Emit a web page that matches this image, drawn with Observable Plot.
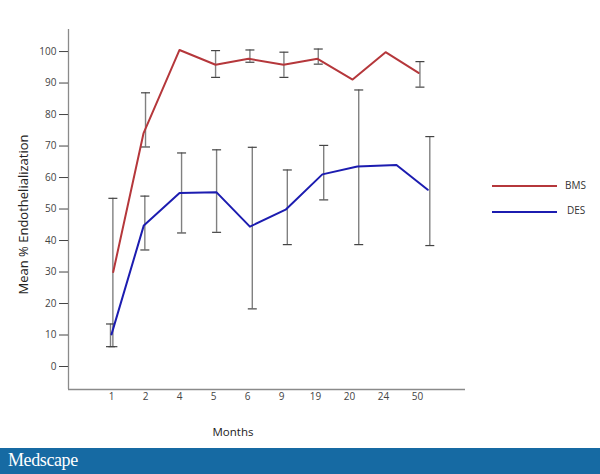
<!DOCTYPE html>
<html><head><meta charset="utf-8">
<script src="https://cdn.jsdelivr.net/npm/d3@7"></script>
<script src="https://cdn.jsdelivr.net/npm/@observablehq/plot@0.6"></script>
<style>
body{margin:0;background:#fff;font-family:"Open Sans",sans-serif;}
#wrap{position:relative;width:600px;height:474px;overflow:hidden;}
#chart svg{display:block;}
.leg{position:absolute;height:2px;width:65px;left:492px;}
.legt{position:absolute;font-size:10px;color:#333;line-height:12px;}
#bar{position:absolute;left:0;top:448px;width:600px;height:26px;background:#166aa3;color:#fff;
 font-family:"Liberation Serif","DejaVu Serif",serif;font-size:18px;line-height:24px;padding-left:8px;box-sizing:border-box;letter-spacing:-0.4px;}
</style></head><body>
<div id="wrap"><div id="chart"></div>
<div class="leg" style="top:185px;background:#b5373b"></div><div class="legt" style="left:565px;top:179px">BMS</div>
<div class="leg" style="top:211px;background:#1c1cb0"></div><div class="legt" style="left:567px;top:204px">DES</div>
<div id="bar">Medscape</div></div>
<script>
// categories (month labels) placed at index positions 0..9
const months = ["1","2","4","5","6","9","19","20","24","50"];
// BMS series: x position (index units) and mean %
const bmsX = [0.05, 0.94, 2.0, 3.06, 4.03, 5.06, 6.06, 7.09, 8.06, 9.03];
const bmsY = [30, 74, 100.5, 95.8, 97.7, 95.8, 97.7, 91.1, 99.8, 93.2];
// DES series
const desX = [0, 0.95, 2.0, 3.09, 4.07, 5.12, 6.2, 7.23, 8.38, 9.3];
const desY = [10.2, 44.8, 55.1, 55.3, 44.4, 49.8, 61, 63.5, 64, 56.1];
// error bars
const bmsErrX = [0.04, 1.0, 3.06, 4.07, 5.07, 6.08, 9.07];
const bmsErrLo = [6.3, 69.7, 91.8, 96.6, 91.8, 96, 88.7];
const bmsErrHi = [53.4, 86.9, 100.3, 100.5, 99.8, 100.8, 96.8];
const desErrX = [-0.03, 0.98, 2.06, 3.09, 4.14, 5.17, 6.24, 7.27, 9.36];
const desErrLo = [6.3, 37.0, 42.4, 42.6, 18.3, 38.7, 52.9, 38.7, 38.4];
const desErrHi = [13.5, 54.1, 67.8, 68.8, 69.6, 62.4, 70.2, 87.8, 73];
const yTicks = [0,10,20,30,40,50,60,70,80,90,100];
const xDomain = [-1.265, 10.41];
const yDomain = [-7.3, 107];

const bms = bmsX.map((x,i)=>({x, y:bmsY[i]}));
const des = desX.map((x,i)=>({x, y:desY[i]}));
const errs = [
  ...bmsErrX.map((x,i)=>({x, lo:bmsErrLo[i], hi:bmsErrHi[i]})),
  ...desErrX.map((x,i)=>({x, lo:desErrLo[i], hi:desErrHi[i]}))
];
const cap = {draw(ctx, size){ const r = Math.sqrt(size/Math.PI); ctx.moveTo(-r,0); ctx.lineTo(r,0); }};

const chart = Plot.plot({
  width: 600, height: 448,
  marginLeft: 68, marginRight: 135, marginTop: 29, marginBottom: 59,
  style: {fontFamily: '"Open Sans", sans-serif', color: "#444", background: "#fff"},
  x: {type: "linear", domain: xDomain},
  y: {domain: yDomain},
  marks: [
    Plot.ruleX([xDomain[0]], {stroke: "#8a8a8a", strokeWidth: 1.3}),
    Plot.ruleY([yDomain[0]], {stroke: "#8a8a8a", strokeWidth: 1.3}),
    Plot.axisY({ticks: yTicks, tickSize: 9, tickPadding: 3, fontSize: 10, label: null}),
    Plot.axisX({ticks: months.map((_, i) => i), tickFormat: i => months[i], tickSize: 0, tickPadding: 3, fontSize: 10, label: null}),
    Plot.text(["Mean % Endothelialization"], {frameAnchor: "left", textAnchor: "middle", rotate: -90, dx: -45, dy: 5, fontSize: 13, fill: "#222"}),
    Plot.text(["Months"], {frameAnchor: "bottom", dx: -34, dy: 46, fontSize: 11.5, fill: "#222"}),
    Plot.ruleX(errs, {x: "x", y1: "lo", y2: "hi", stroke: "#808080", strokeWidth: 1.4}),
    Plot.dot(errs, {x: "x", y: "lo", r: 4.5, symbol: cap, stroke: "#444", fill: "none", strokeWidth: 1.2}),
    Plot.dot(errs, {x: "x", y: "hi", r: 4.5, symbol: cap, stroke: "#444", fill: "none", strokeWidth: 1.2}),
    Plot.line(bms, {x: "x", y: "y", stroke: "#b5373b", strokeWidth: 2}),
    Plot.line(des, {x: "x", y: "y", stroke: "#1c1cb0", strokeWidth: 2})
  ]
});
document.getElementById("chart").appendChild(chart);
</script>
</body></html>
